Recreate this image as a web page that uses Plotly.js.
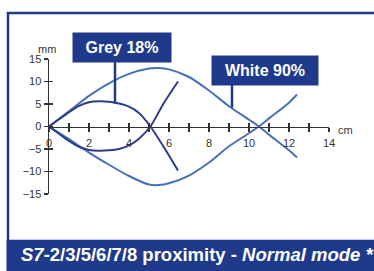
<!DOCTYPE html>
<html><head><meta charset="utf-8">
<script src="https://cdn.plot.ly/plotly-3.0.1.min.js"></script>
<style>html,body{margin:0;padding:0;background:#fff;}#c{width:374px;height:271px;}</style>
</head><body><div id="c"></div>
<script>
// White 90% curves
const whiteX = [0,1,2,3,4,5,5.5,6,7,8,9,10,10.5,11,12,12.4];
const whiteUpper = [0,3.4,6.8,9.6,11.7,12.9,13.0,12.7,11.0,8.0,4.5,1.5,0,-1.8,-5.3,-6.9];
const whiteLower = [0,-2.8,-5.8,-8.5,-11.0,-12.9,-13.0,-12.6,-10.9,-8.0,-4.4,-1.5,0,1.8,5.3,7.1];
// Grey 18% curves
const greyUpperX = [0,0.5,1,1.5,2,2.5,3,3.5,4,4.5,5.07,5.8,6.45];
const greyUpper  = [0,1.6,3.2,4.6,5.4,5.6,5.5,5.1,4.4,3.0,0,-5.0,-9.8];
const greyLowerX = [0,0.5,1,1.5,2,2.5,3,3.5,4,4.5,5.07,5.7,6.45];
const greyLower  = [0,-1.6,-3.2,-4.5,-5.2,-5.4,-5.3,-5.0,-4.2,-2.7,0,4.9,10];
// Labels
const labelGrey = "Grey 18%";
const labelWhite = "White 90%";
const bannerText = "<b><i>S7</i>-2/3/5/6/7/8 proximity - <i>Normal mode *</i></b>";

const navy = "#1f3a8a";
const cWhite = "#4671b8";
const cGrey = "#2e3c8e";

const lineW = {shape:"spline", smoothing:0.7, width:2};
const traces = [
  {x:whiteX, y:whiteUpper, mode:"lines", line:Object.assign({color:cWhite}, lineW), hoverinfo:"skip"},
  {x:whiteX, y:whiteLower, mode:"lines", line:Object.assign({color:cWhite}, lineW), hoverinfo:"skip"},
  {x:greyUpperX, y:greyUpper, mode:"lines", line:Object.assign({color:cGrey}, lineW), hoverinfo:"skip"},
  {x:greyLowerX, y:greyLower, mode:"lines", line:Object.assign({color:cGrey}, lineW), hoverinfo:"skip"},
  // carrier for the overlay axes that draw the inner half of the crossing ticks
  {x:[0], y:[0], xaxis:"x2", yaxis:"y2", mode:"markers", marker:{opacity:0, size:1}, hoverinfo:"skip"}
];

// pixel -> paper helpers (plot area: x 49..329, y 59..194)
const px = v => (v-49)/280;
const py = v => (194-v)/135;
const font = {family:"Liberation Sans, Arial, sans-serif"};

const axCommon = {showgrid:false, zeroline:false, tickcolor:"#333", ticklen:4, tickwidth:1.2,
  tickfont:{family:font.family, size:11, color:"#333"}};

const ann = (o) => Object.assign({xref:"paper", yref:"paper", xanchor:"center", yanchor:"middle", showarrow:false}, o);

const layout = {
  width:374, height:271, showlegend:false,
  paper_bgcolor:"#fff", plot_bgcolor:"rgba(0,0,0,0)",
  margin:{l:49, r:45, t:59, b:77},
  xaxis:Object.assign({}, axCommon, {range:[0,14], anchor:"free", position:0.5, dtick:2, tick0:0,
    ticks:"outside", showline:true, linecolor:"#333", linewidth:1.5, ticklabelstandoff:2,
    minor:{dtick:1, ticks:"outside", ticklen:4, tickcolor:"#333", tickwidth:1.2}}),
  xaxis2:Object.assign({}, axCommon, {range:[0,14], overlaying:"x", anchor:"free", position:0.5, dtick:1,
    ticks:"inside", showticklabels:false, showline:false}),
  yaxis:Object.assign({}, axCommon, {range:[-15,15], dtick:5, ticks:"outside", showline:true,
    linecolor:"#333", linewidth:1.5}),
  yaxis2:Object.assign({}, axCommon, {range:[-15,15], overlaying:"y", anchor:"x", side:"left", dtick:5,
    ticks:"inside", showticklabels:false, showline:false}),
  shapes:[
    {type:"rect", xref:"paper", yref:"paper", x0:px(8), x1:px(385), y0:py(241), y1:py(13),
      line:{color:navy, width:2.5}, fillcolor:"rgba(0,0,0,0)", layer:"below"},
    {type:"rect", xref:"paper", yref:"paper", x0:px(6.5), x1:px(385), y0:py(280), y1:py(240.5),
      line:{width:0}, fillcolor:navy, layer:"above"},
    {type:"line", xref:"x", yref:"y", x0:3.3, x1:3.3, y0:5.1, y1:14.3, line:{color:navy, width:2.5}},
    {type:"line", xref:"x", yref:"y", x0:9.15, x1:9.15, y0:4.2, y1:9.3, line:{color:navy, width:2.5}}
  ],
  annotations:[
    ann({text:"mm", x:px(47), y:py(49), font:{family:font.family, size:11, color:"#333"}}),
    ann({text:"cm", x:px(345), y:py(130), font:{family:font.family, size:11, color:"#333"}}),
    ann({text:"<b>"+labelGrey+"</b>", x:px(122), y:py(47.5),
      width:94, height:25, borderpad:2, bgcolor:navy, font:{family:font.family, size:16, color:"#fff"}}),
    ann({text:"<b>"+labelWhite+"</b>", x:px(265), y:py(70.5),
      width:102, height:25, borderpad:2, bgcolor:navy, font:{family:font.family, size:16, color:"#fff"}}),
    ann({text:bannerText, x:px(19), xanchor:"left", y:py(254),
      font:{family:font.family, size:18.5, color:"#fff"}})
  ]
};

Plotly.newPlot("c", traces, layout, {staticPlot:true, displayModeBar:false});
</script></body></html>
